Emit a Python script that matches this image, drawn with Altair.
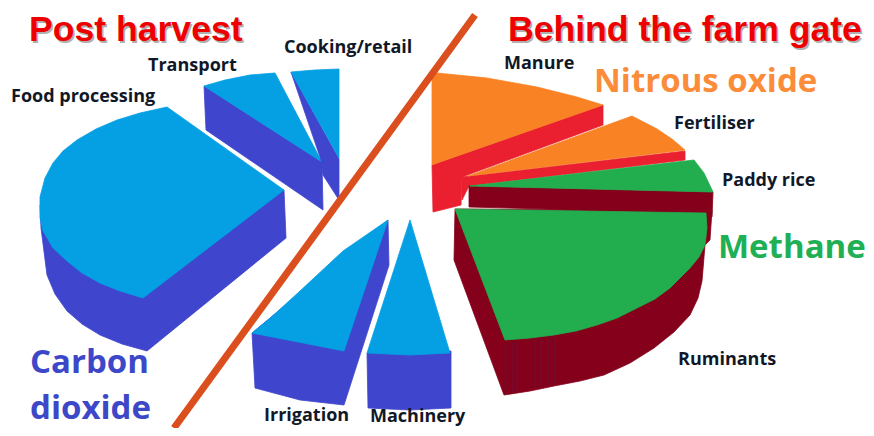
import altair as alt

# Outlines: (x, y) in picture pixels
food_side = [(40,205),(41,228),(47,275),(55,294),(67,311),(82,324),(100,335),(122,344),(147,351),(286,238),(284,190)]
food_top = [(167,107),(140,113),(117,120),(96,129),(77,140),(63,151),(53,163),(45,178),(40,197),(40,218),(43,231),(53,248),(67,261),(82,273),(100,283),(120,291),(143,298),(284,190)]
transport_side = [(204,86),(206,130),(323,210),(322,162)]
transport_top = [(204,86),(225,80),(250,75),(275,73),(322,162)]
cooking_side = [(291,72),(339,159),(339,200),(323,175),(321,160)]
cooking_top = [(291,72),(315,70),(339,69),(339,158)]
manure_side = [(432,165),(603,105),(603,125),(462,177),(461,205),(433,212)]
manure_top = [(432,75),(437,73),(487,78),(537,87),(577,97),(603,105),(437,163),(432,165)]
fert_side = [(462,177),(685,151),(685,160),(469,186),(462,200)]
fert_top = [(468,176),(632,116),(657,129),(672,139),(685,150)]
rum_side = [(455,209),(454,260),(504,395),(530,391),(554,386),(580,381),(604,375),(630,363),(654,348),(674,332),(690,315),(698,298),(702,281),(705,245),(710,240),(712,210)]
paddy_side = [(469,186),(713,192),(712,217),(706,213),(469,207)]
paddy_top = [(470,186),(694,160),(704,173),(713,192)]
rum_top = [(455,209),(706,213),(707,228),(705,245),(699,257),(690,268),(670,288),(655,299),(637,308),(617,318),(597,325),(576,331),(554,335),(530,338),(505,340)]
irr_side = [(252,333),(255,388),(300,400),(344,405),(389,265),(388,220)]
irr_top = [(388,220),(343,251),(300,291),(267,321),(252,333),(293,341),(344,351)]
mach_side = [(367,353),(368,408),(410,410),(451,408),(451,351)]
mach_top = [(410,220),(367,353),(410,355),(450,353)]
divider = [(475,15),(174,428)]
streaks = [(506,344,506,394),(513,342,513,393),(517,342,517,392),(535,340,535,388),(541,338,541,388),(548,337,548,386),(555,336,555,385)]

LIGHT, DARK = "#04A0E3", "#3F45CC"
ORANGE, RED = "#F98225", "#EA1F30"
GREEN, MAROON = "#22AE4E", "#85001A"

shapes = [
    (food_side, DARK), (food_top, LIGHT),
    (transport_side, DARK), (transport_top, LIGHT),
    (cooking_side, DARK), (cooking_top, LIGHT),
    (manure_side, RED), (manure_top, ORANGE),
    (fert_side, RED), (fert_top, ORANGE),
    (rum_side, MAROON), (paddy_side, MAROON), (paddy_top, GREEN), (rum_top, GREEN),
    (irr_side, DARK), (irr_top, LIGHT),
    (mach_side, DARK), (mach_top, LIGHT),
]

titles = [("Post harvest", 29, 41), ("Behind the farm gate", 508, 41)]
labels = [("Food processing", 11, 102), ("Transport", 148, 71), ("Cooking/retail", 284, 53),
          ("Manure", 504, 69), ("Fertiliser", 674, 129), ("Paddy rice", 722, 186),
          ("Ruminants", 678, 365), ("Irrigation", 264, 421), ("Machinery", 370, 422)]
gases = [("Nitrous oxide", 594, 92, "#FB8C3A"), ("Methane", 718, 258, "#1FAF55"),
         ("Carbon", 30, 373, "#3C48C8"), ("dioxide", 30, 419, "#3C48C8")]

X = alt.X("x:Q", axis=None, scale=alt.Scale(domain=[8, 866], nice=False, zero=False))
Y = alt.Y("y:Q", axis=None, scale=alt.Scale(domain=[428, 8], nice=False, zero=False))


def table(points):
    return alt.Data(values=[{"x": p[0], "y": p[1], "i": n} for n, p in enumerate(points)])


def text_table(rows):
    return alt.Data(values=[{"t": r[0], "x": r[1], "y": r[2]} for r in rows])


layers = []
for pts, col in shapes:
    layers.append(
        alt.Chart(table(pts)).mark_line(
            fill=col, stroke=col, strokeWidth=0.8, interpolate="linear-closed"
        ).encode(x=X, y=Y, order="i:Q")
    )

for s in streaks:
    layers.append(
        alt.Chart(table([(s[0], s[1]), (s[2], s[3])])).mark_line(
            color="#5B1A4A", strokeWidth=1, opacity=0.7
        ).encode(x=X, y=Y, order="i:Q")
    )

layers.append(
    alt.Chart(table(divider)).mark_line(color="#DB4E1E", strokeWidth=7).encode(x=X, y=Y, order="i:Q")
)

for colr, dx, dy in (("#B0B0B0", 1.5, 1.5), ("#EE0000", 0, 0)):
    layers.append(
        alt.Chart(text_table(titles)).mark_text(
            font="Liberation Sans", fontWeight="bold", fontSize=35.6, align="left",
            baseline="alphabetic", color=colr, dx=dx, dy=dy
        ).encode(x=X, y=Y, text="t:N")
    )

layers.append(
    alt.Chart(text_table(labels)).mark_text(
        font="Open Sans", fontWeight="bold", fontSize=18, align="left",
        baseline="alphabetic", color="#101828"
    ).encode(x=X, y=Y, text="t:N")
)

for g in gases:
    layers.append(
        alt.Chart(text_table([g])).mark_text(
            font="Open Sans", fontWeight="bold", fontSize=33, align="left",
            baseline="alphabetic", color=g[3]
        ).encode(x=X, y=Y, text="t:N")
    )

chart = alt.layer(*layers).properties(
    width=858, height=420, autosize=alt.AutoSizeParams(type="none"), padding=0,
    background="#FFFFFF"
).configure_view(stroke=None)

chart.save("out.html", embed_options={"renderer": "svg", "actions": False})
